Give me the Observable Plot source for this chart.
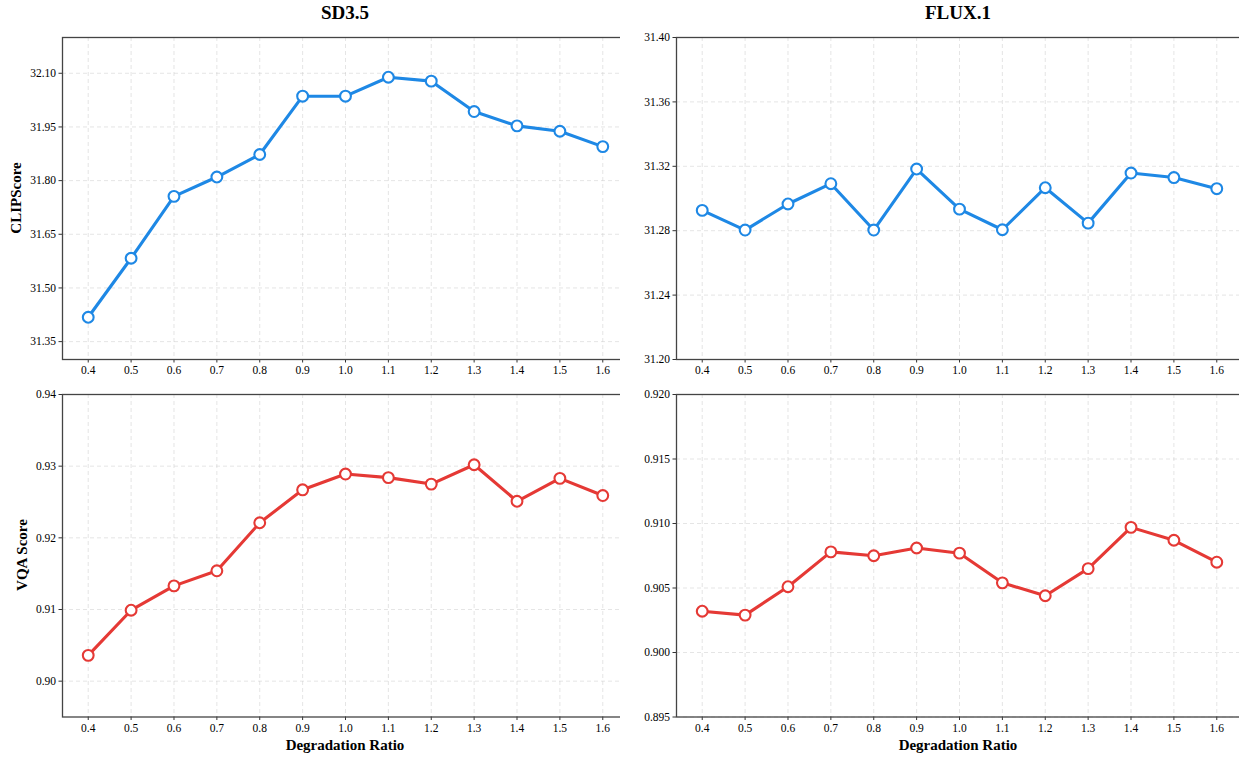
<!DOCTYPE html>
<html>
<head>
<meta charset="utf-8">
<script src="https://cdn.jsdelivr.net/npm/d3@7"></script>
<script src="https://cdn.jsdelivr.net/npm/@observablehq/plot@0.6"></script>
<style>
  html, body { margin: 0; padding: 0; background: #fff; overflow: hidden; }
  #root { position: relative; width: 1239px; height: 757px; overflow: hidden; font-family: "Liberation Serif", "Times New Roman", serif; }
  .panel { position: absolute; width: 640px; }
  .panel svg { max-width: none !important; display: block; }
  .panel svg, .panel svg text { font-family: "Liberation Serif", "Times New Roman", serif !important; font-size: 11.5px; }
  .title { position: absolute; font-weight: bold; font-size: 19px; transform: translate(-50%, -50%); white-space: nowrap; color: #000; }
  .xlabel { position: absolute; font-weight: bold; font-size: 15px; transform: translate(-50%, -50%); white-space: nowrap; color: #000; }
  .ylabel { position: absolute; font-weight: bold; font-size: 15px; transform: translate(-50%, -50%) rotate(-90deg); white-space: nowrap; color: #000; }
</style>
</head>
<body>
<div id="root"></div>
<script>
// ---- data ----
const ratios = [0.4, 0.5, 0.6, 0.7, 0.8, 0.9, 1.0, 1.1, 1.2, 1.3, 1.4, 1.5, 1.6];
const sd35Clip = [31.418, 31.583, 31.756, 31.810, 31.873, 32.036, 32.036, 32.089, 32.078, 31.993, 31.953, 31.938, 31.895];
const fluxClip = [31.2926, 31.2804, 31.2966, 31.3092, 31.2804, 31.3183, 31.2934, 31.2806, 31.3067, 31.2847, 31.3158, 31.3130, 31.3061];
const sd35Vqa = [0.9036, 0.9099, 0.9133, 0.9154, 0.9221, 0.9267, 0.9289, 0.9284, 0.9275, 0.9302, 0.9251, 0.9283, 0.9259];
const fluxVqa = [0.9032, 0.9029, 0.9051, 0.9078, 0.9075, 0.9081, 0.9077, 0.9054, 0.9044, 0.9065, 0.9097, 0.9087, 0.9070];

const xTicks = ratios;
const sd35ClipTicks = [31.35, 31.50, 31.65, 31.80, 31.95, 32.10];
const fluxClipTicks = [31.20, 31.24, 31.28, 31.32, 31.36, 31.40];
const sd35VqaTicks = [0.90, 0.91, 0.92, 0.93, 0.94];
const fluxVqaTicks = [0.895, 0.900, 0.905, 0.910, 0.915, 0.920];

const titles = ["SD3.5", "FLUX.1"];
const yLabels = ["CLIPScore", "VQA Score"];
const xLabel = "Degradation Ratio";

const blue = "#1E88E5";
const red = "#E53935";

const root = document.getElementById("root");

function panel({left, top, width, height, mL, mR, mT, mB, values, yDomain, yTicks, yFmt, color}) {
  const data = ratios.map((r, i) => ({x: r, y: values[i]}));
  const p = Plot.plot({
    width, height,
    marginLeft: mL, marginRight: mR, marginTop: mT, marginBottom: mB,
    style: {fontFamily: '"Liberation Serif", "Times New Roman", serif', fontSize: "11.5px", color: "#000", background: "white", maxWidth: "none"},
    x: {domain: [0.34, 1.66]},
    y: {domain: yDomain},
    marks: [
      Plot.gridX(xTicks, {stroke: "#c8c8c8", strokeOpacity: 0.6, strokeDasharray: "4,3", strokeWidth: 0.8}),
      Plot.gridY(yTicks, {stroke: "#c8c8c8", strokeOpacity: 0.6, strokeDasharray: "4,3", strokeWidth: 0.8}),
      Plot.axisX({ticks: xTicks, tickFormat: d3.format(".1f"), tickSize: 3.5, tickPadding: 3, label: null, stroke: "#333"}),
      Plot.axisY({ticks: yTicks, tickFormat: d3.format(yFmt), tickSize: 3.5, tickPadding: 3, label: null, stroke: "#333"}),
      Plot.frame({stroke: "#444", strokeWidth: 1.3}),
      Plot.line(data, {x: "x", y: "y", stroke: color, strokeWidth: 3.1}),
      Plot.dot(data, {x: "x", y: "y", r: 5.4, fill: "white", stroke: color, strokeWidth: 2.1})
    ]
  });
  const wrap = document.createElement("div");
  wrap.className = "panel";
  wrap.style.left = left + "px";
  wrap.style.top = top + "px";
  wrap.style.width = width + "px";
  wrap.appendChild(p);
  root.appendChild(wrap);
}

// top row
panel({left: 0, top: 25, width: 640, height: 353, mL: 62, mR: 12, mT: 12, mB: 19,
  values: sd35Clip, yDomain: [31.30, 32.20], yTicks: sd35ClipTicks, yFmt: ".2f", color: blue});
panel({left: 620, top: 25, width: 640, height: 353, mL: 56, mR: 18, mT: 12, mB: 19,
  values: fluxClip, yDomain: [31.20, 31.40], yTicks: fluxClipTicks, yFmt: ".2f", color: blue});
// bottom row
panel({left: 0, top: 380, width: 640, height: 377, mL: 62, mR: 12, mT: 14, mB: 40.5,
  values: sd35Vqa, yDomain: [0.895, 0.94], yTicks: sd35VqaTicks, yFmt: ".2f", color: red});
panel({left: 620, top: 380, width: 640, height: 377, mL: 56, mR: 18, mT: 14, mB: 40.5,
  values: fluxVqa, yDomain: [0.895, 0.920], yTicks: fluxVqaTicks, yFmt: ".3f", color: red});

function addText(cls, text, x, y) {
  const d = document.createElement("div");
  d.className = cls;
  d.textContent = text;
  d.style.left = x + "px";
  d.style.top = y + "px";
  root.appendChild(d);
}
addText("title", titles[0], 345, 13);
addText("title", titles[1], 958, 13);
addText("ylabel", yLabels[0], 16, 198);
addText("ylabel", yLabels[1], 22, 555);
addText("xlabel", xLabel, 345, 745);
addText("xlabel", xLabel, 958, 745);
</script>
</body>
</html>
